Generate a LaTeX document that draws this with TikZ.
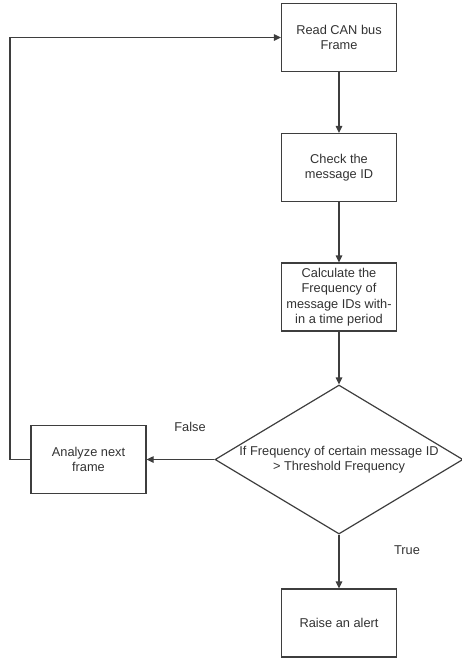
\documentclass[tikz,border=0pt]{standalone}
\usepackage{fontspec}
\setmainfont{Liberation Sans}
\usetikzlibrary{shapes.geometric,arrows.meta}
\definecolor{linegray}{RGB}{62,62,62}
\definecolor{textgray}{RGB}{50,50,50}
\tikzstyle{procbox}=[rectangle,draw=linegray,line width=1.2pt,text=textgray,align=center,minimum width=115pt,minimum height=68pt,inner sep=0pt,font=\fontsize{12.8}{15.5}\selectfont]
\tikzstyle{decbox}=[diamond,draw=linegray,line width=1.2pt,text=textgray,align=center,aspect=1.66,minimum width=248pt,minimum height=149pt,inner sep=0pt,font=\fontsize{12.8}{15.5}\selectfont]
\tikzstyle{edgetext}=[text=textgray,inner sep=0pt,font=\fontsize{12.8}{15.5}\selectfont]
\tikzstyle{arrowline}=[draw=linegray,line width=1.2pt,-{Triangle[length=7pt,width=6.5pt]}]

\begin{document}
\begin{tikzpicture}[x=1pt,y=-1pt]
    \useasboundingbox (0,0) rectangle (461,659);
    \node[procbox] (read) at (339,37.5) {Read CAN bus\\Frame};
    \node[procbox] (check) at (339,167.5) {Check the\\message ID};
    \node[procbox] (calc) at (339,297) {Calculate the\\Frequency of\\message IDs with-\\in a time period};
    \node[decbox] (cond) at (339,459.5) {If Frequency of certain message ID\\> Threshold Frequency};
    \node[procbox] (analyze) at (88.5,459.5) {Analyze next\\frame};
    \node[procbox] (alert) at (339,623) {Raise an alert};
    \node[edgetext] (false) at (190,427) {False};
    \node[edgetext] (true) at (407,550) {True};
    \coordinate (loop) at (10,459.5);

    \foreach \from/\to in {read/check,check/calc,calc/cond,cond/analyze,cond/alert}
    \draw[arrowline] (\from) -- (\to);
    \draw[arrowline] (analyze.west) -- (loop) |- (read.west);
\end{tikzpicture}
\end{document}
